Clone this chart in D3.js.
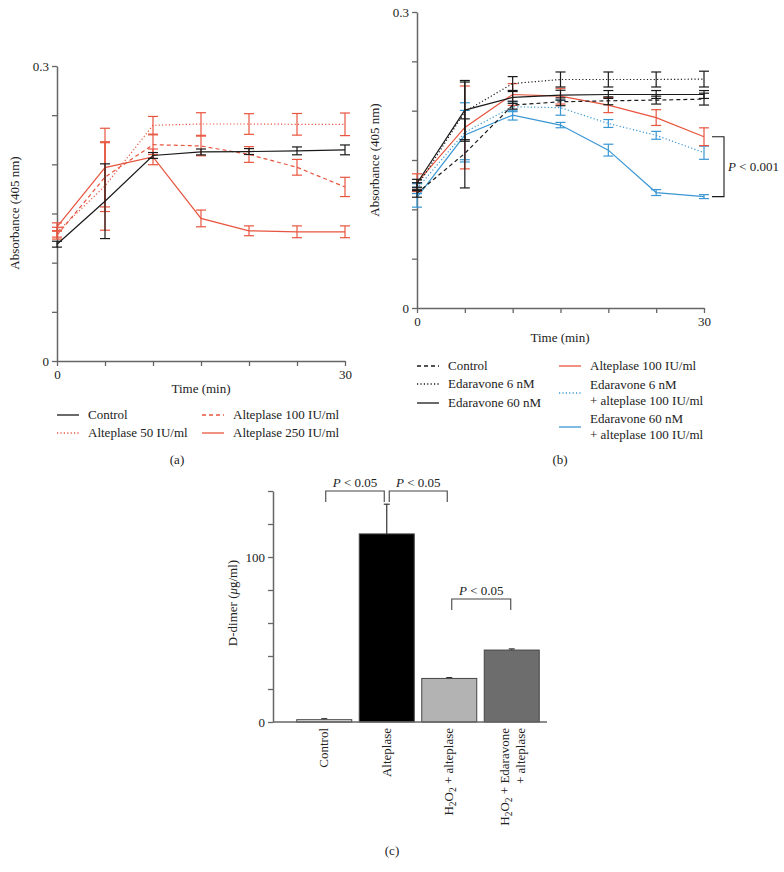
<!DOCTYPE html>
<html><head><meta charset="utf-8">
<script src="https://cdn.jsdelivr.net/npm/d3@7"></script>
<style>
body{margin:0;background:#fff}
text{font-family:"Liberation Serif","DejaVu Serif",serif;fill:#222}
</style></head><body>
<svg id="c" width="784" height="872"></svg>
<script>
// ---------- DATA ----------
const times = [0, 5, 10, 15, 20, 25, 30];

// Panel (a)
const aNames = ["Control", "Alteplase 50 IU/ml", "Alteplase 100 IU/ml", "Alteplase 250 IU/ml"];
const aControl = [0.1188, 0.1625, 0.209, 0.2126, 0.213, 0.2137, 0.2147];
const aControlErr = [0.003, 0.038, 0.003, 0.003, 0.003, 0.004, 0.005];
const aAlt50 = [0.131, 0.178, 0.2397, 0.241, 0.241, 0.2407, 0.2407];
const aAlt50Err = [0.005, 0.045, 0.009, 0.0115, 0.0105, 0.011, 0.0115];
const aAlt100 = [0.128, 0.187, 0.220, 0.2187, 0.210, 0.197, 0.177];
const aAlt100Err = [0.004, 0.035, 0.010, 0.010, 0.008, 0.008, 0.0098];
const aAlt250 = [0.1365, 0.1967, 0.2076, 0.145, 0.1324, 0.1314, 0.1314];
const aAlt250Err = [0.004, 0.04, 0.008, 0.0085, 0.005, 0.006, 0.006];

// Panel (b)
const bNames = ["Control", "Edaravone 6 nM", "Edaravone 60 nM", "Alteplase 100 IU/ml",
  "Edaravone 6 nM|+ alteplase 100 IU/ml", "Edaravone 60 nM|+ alteplase 100 IU/ml"];
const bControl = [0.1163, 0.1567, 0.2056, 0.209, 0.21, 0.2107, 0.2117];
const bControlErr = [0.004, 0.035, 0.004, 0.004, 0.004, 0.004, 0.006];
const bEd6 = [0.123, 0.199, 0.2275, 0.2316, 0.2316, 0.2316, 0.232];
const bEd6Err = [0.004, 0.03, 0.007, 0.0076, 0.0076, 0.0076, 0.008];
const bEd60 = [0.1264, 0.2006, 0.2134, 0.2157, 0.2164, 0.2164, 0.2164];
const bEd60Err = [0.004, 0.03, 0.006, 0.005, 0.004, 0.004, 0.004];
const bAlt = [0.127, 0.183, 0.2164, 0.2147, 0.2056, 0.193, 0.1736];
const bAltErr = [0.009, 0.042, 0.011, 0.008, 0.0076, 0.008, 0.009];
const bEd6Alt = [0.121, 0.178, 0.204, 0.203, 0.187, 0.175, 0.1574];
const bEd6AltErr = [0.005, 0.03, 0.005, 0.0076, 0.004, 0.004, 0.0067];
const bEd60Alt = [0.1122, 0.1753, 0.1955, 0.1854, 0.160, 0.117, 0.1129];
const bEd60AltErr = [0.01, 0.025, 0.005, 0.0027, 0.006, 0.003, 0.002];

// Panel (c)
const cCategories = ["Control", "Alteplase", "H2O2 + alteplase", "H2O2 + Edaravone + alteplase"];
const cValues = [1.4, 114, 26.4, 43.6];
const cErrors = [0.6, 18, 0.5, 0.7];

// ticks
const absTicks = [0, 0.05, 0.1, 0.15, 0.2, 0.25, 0.3];
const absTickLabels = ["0", "", "", "", "", "", "0.3"];
const timeTickLabels = ["0", "", "", "", "", "", "30"];
const dTicks = [0, 20, 40, 60, 80, 100, 120, 140];
const dTickLabels = ["0", "", "", "", "", "100", "", ""];

// ---------- STYLE ----------
const RED = "#e8553f", BLUE = "#3b97d3", BLACK = "#1a1a1a", AXIS = "#666";
const DOT = "1.2,2.2", DASH = "4,3";
const FS = "13px";

const svg = d3.select("#c");

function styleAxis(a) {
  a.select(".domain").attr("stroke", AXIS).attr("stroke-width", 1.5);
  a.selectAll(".tick line").attr("stroke", AXIS).attr("stroke-width", 1.3);
  a.selectAll("text").style("font-family", "Liberation Serif").style("font-size", FS).style("fill", "#222");
}

function drawAxes(g, x, y) {
  const ya = d3.axisLeft(y).tickValues(absTicks).tickFormat((d, i) => absTickLabels[i]).tickSize(5).tickSizeOuter(0).tickPadding(3);
  const xa = d3.axisBottom(x).tickValues(times).tickFormat((d, i) => timeTickLabels[i]).tickSize(5).tickSizeOuter(0).tickPadding(4);
  styleAxis(g.append("g").attr("transform", `translate(${x(0)},0)`).call(ya));
  styleAxis(g.append("g").attr("transform", `translate(0,${y(0)})`).call(xa));
}

function drawSeries(g, x, y, vals, errs, color, dash) {
  const line = d3.line().x((d, i) => x(times[i])).y(d => y(d));
  g.append("path").datum(vals).attr("d", line).attr("fill", "none")
    .attr("stroke", color).attr("stroke-width", 1.2).attr("stroke-dasharray", dash || null);
  const eb = g.append("g").attr("stroke", color).attr("stroke-width", 1.2).attr("fill", "none");
  vals.forEach((v, i) => {
    const cx = x(times[i]), y1 = y(v + errs[i]), y2 = y(v - errs[i]);
    eb.append("line").attr("x1", cx).attr("x2", cx).attr("y1", y1).attr("y2", y2);
    eb.append("line").attr("x1", cx - 5).attr("x2", cx + 5).attr("y1", y1).attr("y2", y1);
    eb.append("line").attr("x1", cx - 5).attr("x2", cx + 5).attr("y1", y2).attr("y2", y2);
  });
}

function legendItem(g, x0, yy, color, dash, label, textX) {
  g.append("line").attr("x1", x0).attr("x2", x0 + 22).attr("y1", yy).attr("y2", yy)
    .attr("stroke", color).attr("stroke-width", 1.3).attr("stroke-dasharray", dash || null);
  const lines = label.split("|");
  const t = g.append("text").attr("x", textX).attr("y", yy + 4 - (lines.length - 1) * 8).style("font-size", FS);
  lines.forEach((l, i) => t.append("tspan").attr("x", textX).attr("dy", i ? 16 : 0).text(l));
}

// ---------- PANEL A ----------
{
  const g = svg.append("g");
  const x = d3.scaleLinear([0, 30], [57, 345]);
  const y = d3.scaleLinear([0, 0.3], [361, 66]);
  drawAxes(g, x, y);
  drawSeries(g, x, y, aAlt50, aAlt50Err, RED, DOT);
  drawSeries(g, x, y, aAlt100, aAlt100Err, RED, DASH);
  drawSeries(g, x, y, aAlt250, aAlt250Err, RED, null);
  drawSeries(g, x, y, aControl, aControlErr, BLACK, null);
  g.append("text").attr("x", 201).attr("y", 393).attr("text-anchor", "middle").style("font-size", FS).text("Time (min)");
  g.append("text").attr("transform", "translate(19,213) rotate(-90)").attr("text-anchor", "middle").style("font-size", FS).text("Absorbance (405 nm)");
  const lg = g.append("g");
  legendItem(lg, 57, 415, BLACK, null, aNames[0], 88);
  legendItem(lg, 57, 433, RED, DOT, aNames[1], 88);
  legendItem(lg, 202, 415, RED, DASH, aNames[2], 233);
  legendItem(lg, 202, 433, RED, null, aNames[3], 233);
  g.append("text").attr("x", 177).attr("y", 464).attr("text-anchor", "middle").style("font-size", FS).text("(a)");
}

// ---------- PANEL B ----------
{
  const g = svg.append("g");
  const x = d3.scaleLinear([0, 30], [417, 704]);
  const y = d3.scaleLinear([0, 0.3], [308, 12]);
  drawAxes(g, x, y);
  drawSeries(g, x, y, bEd6Alt, bEd6AltErr, BLUE, DOT);
  drawSeries(g, x, y, bEd60Alt, bEd60AltErr, BLUE, null);
  drawSeries(g, x, y, bAlt, bAltErr, RED, null);
  drawSeries(g, x, y, bControl, bControlErr, BLACK, DASH);
  drawSeries(g, x, y, bEd6, bEd6Err, BLACK, DOT);
  drawSeries(g, x, y, bEd60, bEd60Err, BLACK, null);
  // significance bracket
  const yT = y(bAlt[6]), yB = y(bEd60Alt[6]);
  g.append("path").attr("d", `M${x(30) + 8},${yT}H${x(30) + 20}V${yB}H${x(30) + 8}`)
    .attr("fill", "none").attr("stroke", BLACK).attr("stroke-width", 1.1);
  const pt = g.append("text").attr("x", x(30) + 24).attr("y", (yT + yB) / 2 + 4).style("font-size", FS);
  pt.append("tspan").style("font-style", "italic").text("P");
  pt.append("tspan").text(" < 0.001");
  g.append("text").attr("x", 560).attr("y", 342).attr("text-anchor", "middle").style("font-size", FS).text("Time (min)");
  g.append("text").attr("transform", "translate(379,160) rotate(-90)").attr("text-anchor", "middle").style("font-size", FS).text("Absorbance (405 nm)");
  const lg = g.append("g");
  legendItem(lg, 417, 366, BLACK, DASH, bNames[0], 448);
  legendItem(lg, 417, 384, BLACK, DOT, bNames[1], 448);
  legendItem(lg, 417, 403, BLACK, null, bNames[2], 448);
  legendItem(lg, 559, 366, RED, null, bNames[3], 590);
  legendItem(lg, 559, 393, BLUE, DOT, bNames[4], 590);
  legendItem(lg, 559, 427, BLUE, null, bNames[5], 590);
  g.append("text").attr("x", 560).attr("y", 464).attr("text-anchor", "middle").style("font-size", FS).text("(b)");
}

// ---------- PANEL C ----------
{
  const g = svg.append("g");
  const x = d3.scaleBand().domain(cCategories).range([293, 543]).paddingInner(0.12).paddingOuter(0.06);
  const y = d3.scaleLinear([0, 140], [722, 491]);
  const fills = ["#e3e3e3", "#000000", "#b3b3b3", "#6d6d6d"];
  cCategories.forEach((c, i) => {
    const cx = x(c) + x.bandwidth() / 2;
    g.append("line").attr("x1", cx).attr("x2", cx).attr("y1", y(cValues[i])).attr("y2", y(cValues[i] + cErrors[i]))
      .attr("stroke", "#333").attr("stroke-width", 1.2);
    g.append("line").attr("x1", cx - 3).attr("x2", cx + 3).attr("y1", y(cValues[i] + cErrors[i])).attr("y2", y(cValues[i] + cErrors[i]))
      .attr("stroke", "#333").attr("stroke-width", 1.2);
  });
  g.selectAll("rect.bar").data(cValues).join("rect").attr("class", "bar")
    .attr("x", (d, i) => x(cCategories[i])).attr("width", x.bandwidth())
    .attr("y", d => y(d)).attr("height", d => y(0) - y(d))
    .attr("fill", (d, i) => fills[i]).attr("stroke", "#444").attr("stroke-width", 1);
  const ya = d3.axisLeft(y).tickValues(dTicks).tickFormat((d, i) => dTickLabels[i]).tickSize(5).tickSizeOuter(0).tickPadding(3);
  styleAxis(g.append("g").attr("transform", "translate(273,0)").call(ya));
  g.append("line").attr("x1", 273).attr("x2", 547).attr("y1", y(0)).attr("y2", y(0)).attr("stroke", AXIS).attr("stroke-width", 1.5);

  // category labels (rotated)
  const cx = c => x(c) + x.bandwidth() / 2;
  function rot(xx, parts) {
    const t = g.append("text").attr("transform", `translate(${xx},728) rotate(-90)`).attr("text-anchor", "end").style("font-size", FS);
    parts.forEach(p => {
      const s = t.append("tspan").text(p.t);
      if (p.dy) s.attr("dy", p.dy);
      if (p.sub) s.style("font-size", "9.5px");
    });
    return t;
  }
  const h2o2 = [{t: "H"}, {t: "2", dy: 3, sub: true}, {t: "O", dy: -3}, {t: "2", dy: 3, sub: true}];
  rot(cx(cCategories[0]) + 4, [{t: "Control"}]);
  rot(cx(cCategories[1]) + 4, [{t: "Alteplase"}]);
  rot(cx(cCategories[2]) + 4, h2o2.concat([{t: " + alteplase", dy: -3}]));
  rot(cx(cCategories[3]) - 3, h2o2.concat([{t: " + Edaravone", dy: -3}]));
  rot(cx(cCategories[3]) + 13, [{t: "+ alteplase"}]);

  // significance brackets
  function bracket(i1, i2, yTop, yBot, off1, off2) {
    const x1 = cx(cCategories[i1]) + off1, x2 = cx(cCategories[i2]) + off2;
    g.append("path").attr("d", `M${x1},${yBot}V${yTop}H${x2}V${yBot}`).attr("fill", "none").attr("stroke", "#444").attr("stroke-width", 1.1);
    const t = g.append("text").attr("x", (x1 + x2) / 2).attr("y", yTop - 4).attr("text-anchor", "middle").style("font-size", FS);
    t.append("tspan").style("font-style", "italic").text("P");
    t.append("tspan").text(" < 0.05");
  }
  bracket(0, 1, 491, 502, 1.5, -2.5);
  bracket(1, 2, 491, 502, 2.5, -2);
  bracket(2, 3, 599, 610, 2.5, -1);

  g.append("text").attr("transform", "translate(237,603) rotate(-90)").attr("text-anchor", "middle").style("font-size", FS)
    .call(t => { t.append("tspan").text("D-dimer ("); t.append("tspan").style("font-style", "italic").text("\u03bc"); t.append("tspan").text("g/ml)"); });
  g.append("text").attr("x", 392).attr("y", 855).attr("text-anchor", "middle").style("font-size", FS).text("(c)");
}
</script>
</body></html>
